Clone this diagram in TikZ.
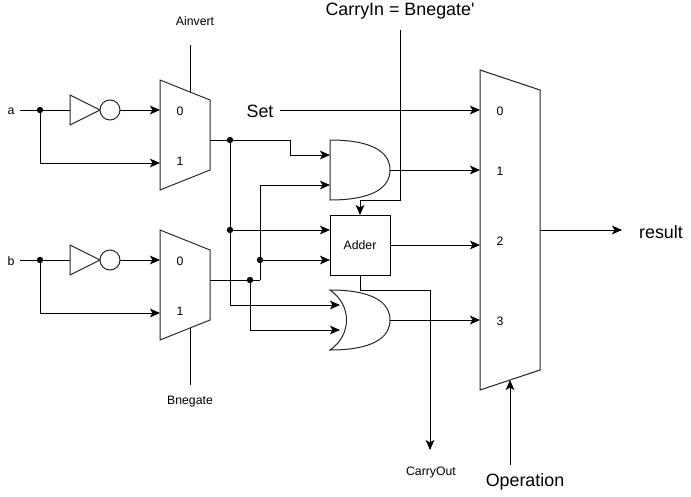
\documentclass[tikz,border=0pt]{standalone}
\usepackage{fontspec}
\setmainfont{Liberation Sans}
\newfontfamily\plainf{Liberation Sans}
\usetikzlibrary{arrows.meta}
\tikzset{
  wire/.style={line width=0.75pt,draw=black},
  arr/.style={wire,-{Stealth[length=7.5pt,width=6.5pt,inset=1.8pt]}},
  gate/.style={line width=0.75pt,draw=black!85,fill=white},
  junc/.style={circle,fill=black,inner sep=0pt,minimum size=4.8pt},
  small/.style={font=\fontsize{9.2}{11}\selectfont,inner sep=0pt},
  big/.style={font=\fontsize{13.4}{16}\selectfont,inner sep=0pt},
}
\begin{document}
\begin{tikzpicture}[x=0.75pt,y=-0.75pt]
\useasboundingbox (0,0) rectangle (691,496);
% junctions
\node[junc] (ja) at (40,110) {};
\node[junc] (jb) at (40,260) {};
\node[junc] (jA) at (230,140) {};
\node[junc] (jA2) at (230,230) {};
\node[junc] (jB) at (250,280) {};
\node[junc] (jB2) at (260,260) {};
% free ends
\coordinate (ain) at (20,110);
\coordinate (bin) at (20,260);
\coordinate (ia) at (70,110);
\coordinate (ib) at (70,260);
\coordinate (oa) at (120,110);
\coordinate (ob) at (120,260);
\coordinate (ma0) at (160,110);
\coordinate (ma1) at (160,163);
\coordinate (mb0) at (160,260);
\coordinate (mb1) at (160,313);
\coordinate (maout) at (210,140);
\coordinate (mbout) at (210,280);
\coordinate (ainvT) at (190,45);
\coordinate (ainvB) at (190,92);
\coordinate (bnegT) at (190,328);
\coordinate (bnegB) at (190,385);
\coordinate (and1) at (330,155);
\coordinate (and2) at (330,185);
\coordinate (andout) at (390,170);
\coordinate (orin1) at (340,305);
\coordinate (orin2) at (340,330);
\coordinate (orout) at (390,320);
\coordinate (add1) at (330,230);
\coordinate (add2) at (330,260);
\coordinate (addout) at (390,245);
\coordinate (addtop) at (360,215);
\coordinate (addbot) at (360,275);
\coordinate (cin) at (400,30);
\coordinate (cout) at (430,450);
\coordinate (setS) at (280,110);
\coordinate (m0) at (480,110);
\coordinate (m1) at (480,170);
\coordinate (m2) at (480,245);
\coordinate (m3) at (480,320);
\coordinate (mout) at (540,230);
\coordinate (res) at (622,230);
\coordinate (opS) at (510,465);
\coordinate (opE) at (510,380);
% connectors
\draw[wire] (ain) -- (ia);
\draw[wire] (bin) -- (ib);
\draw[arr] (oa) -- (ma0);
\draw[arr] (ob) -- (mb0);
\draw[arr] (ja.center) |- (ma1);
\draw[arr] (jb.center) |- (mb1);
\draw[wire] (ainvT) -- (ainvB);
\draw[wire] (bnegT) -- (bnegB);
\draw[wire] (maout) -- (jA.center);
\draw[arr] (jA.center) -- (290,140) -- (290,155) -- (and1);
\draw[arr] (jA.center) |- (orin1);
\draw[arr] (jA2.center) -- (add1);
\draw[wire] (mbout) -- (260,280);
\draw[arr] (260,280) |- (and2);
\draw[arr] (jB2.center) -- (add2);
\draw[arr] (jB.center) |- (orin2);
\draw[arr] (setS) -- (m0);
\draw[arr] (andout) -- (m1);
\draw[arr] (addout) -- (m2);
\draw[arr] (orout) -- (m3);
\draw[arr] (cin) -- (400,200) -- (360,200) -- (addtop);
\draw[arr] (addbot) -- (360,290) -- (430,290) -- (cout);
\draw[arr] (mout) -- (res);
\draw[arr] (opS) -- (opE);
% muxes
\draw[gate,fill=none] (160,80) -- (210,100) -- (210,170) -- (160,190) -- cycle;
\draw[gate,fill=none] (160,230) -- (210,250) -- (210,320) -- (160,340) -- cycle;
\draw[gate,fill=none] (480,70) -- (540,90) -- (540,370) -- (480,390) -- cycle;
% inverters
\draw[gate,fill=none] (70,95) -- (100,110) -- (70,125) -- cycle;
\draw[gate] (110,110) circle[radius=10];
\draw[gate,fill=none] (70,245) -- (100,260) -- (70,275) -- cycle;
\draw[gate] (110,260) circle[radius=10];
% AND gate
\draw[gate,fill=none] (330,140) -- (330,200) .. controls (372,200) and (390,188) .. (390,170) .. controls (390,152) and (372,140) .. (330,140) -- cycle;
% Adder
\node[draw=black,line width=0.75pt,minimum width=45pt,minimum height=45pt,inner sep=0pt,font=\fontsize{9.2}{11}\selectfont,anchor=center] (adder) at (360,245) {Adder};
% OR gate
\draw[gate,fill=none] (330,290) .. controls (372,290) and (390,302) .. (390,320) .. controls (390,338) and (372,350) .. (330,350) .. controls (352,335) and (352,305) .. (330,290) -- cycle;
% labels
\node[small] (la) at (11,111) {a};
\node[small] (lb) at (11,261) {b};
\node[small] (l00) at (180,111) {0};
\node[small] (l01) at (180,161) {1};
\node[small] (l10) at (180,261) {0};
\node[small] (l11) at (180,311) {1};
\node[small] (lai) at (195,21) {Ainvert};
\node[small] (lbn) at (190,402) {Bnegate};
\node[small] (lco) at (431,472) {CarryOut};
\node[small] (m0l) at (500,111) {0};
\node[small] (m1l) at (500,171) {1};
\node[small] (m2l) at (500,241) {2};
\node[small] (m3l) at (500,321) {3};
\node[big] (lset) at (260,111) {Set};
\node[big] (lcin) at (400,11) {CarryIn = Bnegate{\plainf '}};
\node[big] (lres) at (661,232) {result};
\node[big] (lop) at (525,482) {Operation};
\end{tikzpicture}
\end{document}
